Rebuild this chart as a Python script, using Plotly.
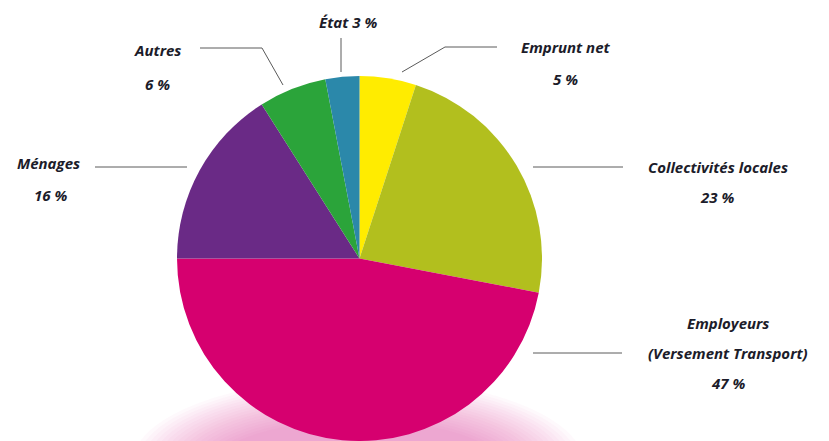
import plotly.graph_objects as go

W, H = 829, 441

labels = ["Emprunt net", "Collectivités locales", "Employeurs (Versement Transport)",
          "Ménages", "Autres", "État"]
values = [5, 23, 47, 16, 6, 3]
colors = ["#FFEC00", "#B2BF1E", "#D6006F", "#6A2A86", "#2BA43A", "#2B88AA"]

def px(x):
    return x / W

def py(y):
    return 1 - y / H

fig = go.Figure()
fig.add_trace(go.Pie(
    labels=labels, values=values, sort=False, direction="clockwise", rotation=0,
    marker=dict(colors=colors, line=dict(width=0)),
    textinfo="none", hoverinfo="label+percent", showlegend=False,
    domain=dict(x=[px(177), px(542)], y=[0, py(76)]),
))

shapes = []
# soft pink shadow under the pie
n = 18
for i in range(n):
    rx = 226 - i * 5
    ry = 86 - i * 2.5
    cx, cy = 358, 464
    shapes.append(dict(type="circle", xref="paper", yref="paper",
                       x0=px(cx - rx), x1=px(cx + rx), y0=py(cy + ry), y1=py(cy - ry),
                       fillcolor="rgba(225,80,160,0.035)", line=dict(width=0), layer="below"))

lc = "#5a5a5a"
def seg(points):
    path = "M " + " L ".join(f"{px(x)},{py(y)}" for x, y in points)
    shapes.append(dict(type="path", xref="paper", yref="paper", path=path,
                       line=dict(color=lc, width=1)))

seg([(341, 38), (341, 72)])
seg([(200, 48), (262, 48), (283, 85)])
seg([(497, 47), (445, 47), (402, 72)])
seg([(95, 167), (187, 167)])
seg([(533, 167), (623, 167)])
seg([(533, 353), (622, 353)])

font = dict(family="Open Sans", size=15, color="#1c1c2a")
texts = [
    ("<b><i>État 3 %</i></b>", 348, 22),
    ("<b><i>Autres</i></b>", 157, 50),
    ("<b><i>6 %</i></b>", 157, 84),
    ("<b><i>Emprunt net</i></b>", 566, 47),
    ("<b><i>5 %</i></b>", 565, 79),
    ("<b><i>Ménages</i></b>", 48, 163),
    ("<b><i>16 %</i></b>", 50, 195),
    ("<b><i>Collectivités locales</i></b>", 718, 167),
    ("<b><i>23 %</i></b>", 717, 197),
    ("<b><i>Employeurs</i></b>", 728, 323),
    ("<b><i>(Versement Transport)</i></b>", 728, 353),
    ("<b><i>47 %</i></b>", 728, 383),
]
annotations = [dict(text=t, x=px(x), y=py(y), xref="paper", yref="paper",
                    showarrow=False, xanchor="center", yanchor="middle", font=font)
               for t, x, y in texts]

fig.update_layout(width=W, height=H, margin=dict(l=0, r=0, t=0, b=0),
                  paper_bgcolor="white", plot_bgcolor="white",
                  shapes=shapes, annotations=annotations)

fig.write_html("out.html", config={"displayModeBar": False},
               post_script="document.body.style.margin='0';document.body.style.overflow='hidden';")
